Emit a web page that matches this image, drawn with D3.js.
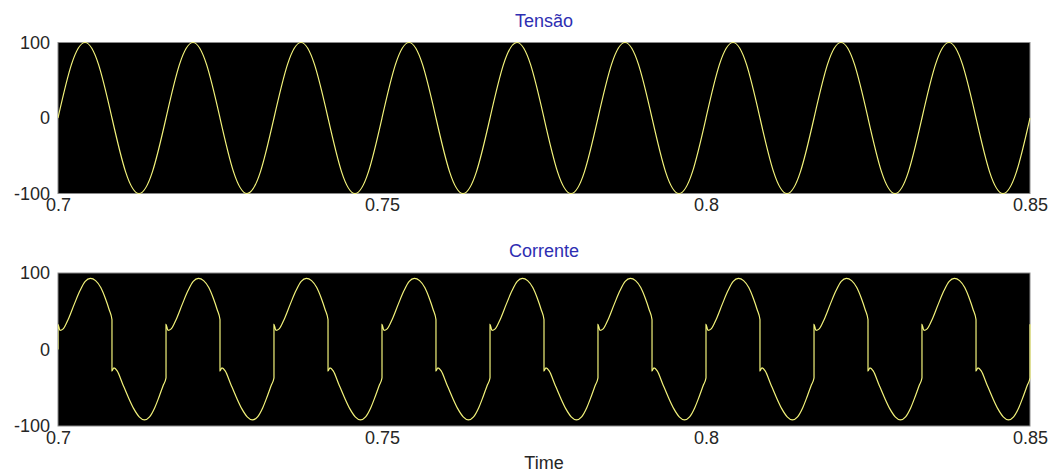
<!DOCTYPE html>
<html>
<head>
<meta charset="utf-8">
<script src="https://cdn.jsdelivr.net/npm/d3@7"></script>
<style>
  body { margin: 0; background: #fff; }
  .chart text { font-family: "Liberation Sans", Arial, sans-serif; }
</style>
</head>
<body>
<svg class="chart"></svg>
<script>
// Tensão: samples every 1/8 of a 60 Hz period (smoothed by the curve)
const voltageTime = [
  0.7, 0.70208, 0.70417, 0.70625, 0.70833, 0.71042, 0.7125, 0.71458,
  0.71667, 0.71875, 0.72083, 0.72292, 0.725, 0.72708, 0.72917, 0.73125,
  0.73333, 0.73542, 0.7375, 0.73958, 0.74167, 0.74375, 0.74583, 0.74792,
  0.75, 0.75208, 0.75417, 0.75625, 0.75833, 0.76042, 0.7625, 0.76458,
  0.76667, 0.76875, 0.77083, 0.77292, 0.775, 0.77708, 0.77917, 0.78125,
  0.78333, 0.78542, 0.7875, 0.78958, 0.79167, 0.79375, 0.79583, 0.79792,
  0.8, 0.80208, 0.80417, 0.80625, 0.80833, 0.81042, 0.8125, 0.81458,
  0.81667, 0.81875, 0.82083, 0.82292, 0.825, 0.82708, 0.82917, 0.83125,
  0.83333, 0.83542, 0.8375, 0.83958, 0.84167, 0.84375, 0.84583, 0.84792,
  0.85
];
const voltageValue = [
  0, 71, 100, 71, 0, -71, -100, -71,
  0, 71, 100, 71, 0, -71, -100, -71,
  0, 71, 100, 71, 0, -71, -100, -71,
  0, 71, 100, 71, 0, -71, -100, -71,
  0, 71, 100, 71, 0, -71, -100, -71,
  0, 71, 100, 71, 0, -71, -100, -71,
  0, 71, 100, 71, 0, -71, -100, -71,
  0, 71, 100, 71, 0, -71, -100, -71,
  0, 71, 100, 71, 0, -71, -100, -71,
  0
];

// Corrente, one line per half period
const currentTime = [
  0.7, 0.7, 0.7003, 0.7008, 0.7016, 0.7025, 0.7034, 0.7042, 0.705, 0.7058, 0.7066, 0.7073, 0.7079,
  0.70833, 0.70833, 0.70863, 0.70913, 0.70993, 0.71083, 0.71173, 0.71253, 0.71333, 0.71413, 0.71493, 0.71563, 0.71623,
  0.71667, 0.71667, 0.71697, 0.71747, 0.71827, 0.71917, 0.72007, 0.72087, 0.72167, 0.72247, 0.72327, 0.72397, 0.72457,
  0.725, 0.725, 0.7253, 0.7258, 0.7266, 0.7275, 0.7284, 0.7292, 0.73, 0.7308, 0.7316, 0.7323, 0.7329,
  0.73333, 0.73333, 0.73363, 0.73413, 0.73493, 0.73583, 0.73673, 0.73753, 0.73833, 0.73913, 0.73993, 0.74063, 0.74123,
  0.74167, 0.74167, 0.74197, 0.74247, 0.74327, 0.74417, 0.74507, 0.74587, 0.74667, 0.74747, 0.74827, 0.74897, 0.74957,
  0.75, 0.75, 0.7503, 0.7508, 0.7516, 0.7525, 0.7534, 0.7542, 0.755, 0.7558, 0.7566, 0.7573, 0.7579,
  0.75833, 0.75833, 0.75863, 0.75913, 0.75993, 0.76083, 0.76173, 0.76253, 0.76333, 0.76413, 0.76493, 0.76563, 0.76623,
  0.76667, 0.76667, 0.76697, 0.76747, 0.76827, 0.76917, 0.77007, 0.77087, 0.77167, 0.77247, 0.77327, 0.77397, 0.77457,
  0.775, 0.775, 0.7753, 0.7758, 0.7766, 0.7775, 0.7784, 0.7792, 0.78, 0.7808, 0.7816, 0.7823, 0.7829,
  0.78333, 0.78333, 0.78363, 0.78413, 0.78493, 0.78583, 0.78673, 0.78753, 0.78833, 0.78913, 0.78993, 0.79063, 0.79123,
  0.79167, 0.79167, 0.79197, 0.79247, 0.79327, 0.79417, 0.79507, 0.79587, 0.79667, 0.79747, 0.79827, 0.79897, 0.79957,
  0.8, 0.8, 0.8003, 0.8008, 0.8016, 0.8025, 0.8034, 0.8042, 0.805, 0.8058, 0.8066, 0.8073, 0.8079,
  0.80833, 0.80833, 0.80863, 0.80913, 0.80993, 0.81083, 0.81173, 0.81253, 0.81333, 0.81413, 0.81493, 0.81563, 0.81623,
  0.81667, 0.81667, 0.81697, 0.81747, 0.81827, 0.81917, 0.82007, 0.82087, 0.82167, 0.82247, 0.82327, 0.82397, 0.82457,
  0.825, 0.825, 0.8253, 0.8258, 0.8266, 0.8275, 0.8284, 0.8292, 0.83, 0.8308, 0.8316, 0.8323, 0.8329,
  0.83333, 0.83333, 0.83363, 0.83413, 0.83493, 0.83583, 0.83673, 0.83753, 0.83833, 0.83913, 0.83993, 0.84063, 0.84123,
  0.84167, 0.84167, 0.84197, 0.84247, 0.84327, 0.84417, 0.84507, 0.84587, 0.84667, 0.84747, 0.84827, 0.84897, 0.84957,
  0.85, 0.85
];
const currentValue = [
  0, 33, 25, 27, 40, 59, 77, 89, 93, 90, 81, 67, 52,
  39, -28, -24, -28, -44, -62, -78, -88, -92, -88, -76, -61, -47,
  -37, 33, 25, 27, 40, 59, 77, 89, 93, 90, 81, 67, 52,
  39, -28, -24, -28, -44, -62, -78, -88, -92, -88, -76, -61, -47,
  -37, 33, 25, 27, 40, 59, 77, 89, 93, 90, 81, 67, 52,
  39, -28, -24, -28, -44, -62, -78, -88, -92, -88, -76, -61, -47,
  -37, 33, 25, 27, 40, 59, 77, 89, 93, 90, 81, 67, 52,
  39, -28, -24, -28, -44, -62, -78, -88, -92, -88, -76, -61, -47,
  -37, 33, 25, 27, 40, 59, 77, 89, 93, 90, 81, 67, 52,
  39, -28, -24, -28, -44, -62, -78, -88, -92, -88, -76, -61, -47,
  -37, 33, 25, 27, 40, 59, 77, 89, 93, 90, 81, 67, 52,
  39, -28, -24, -28, -44, -62, -78, -88, -92, -88, -76, -61, -47,
  -37, 33, 25, 27, 40, 59, 77, 89, 93, 90, 81, 67, 52,
  39, -28, -24, -28, -44, -62, -78, -88, -92, -88, -76, -61, -47,
  -37, 33, 25, 27, 40, 59, 77, 89, 93, 90, 81, 67, 52,
  39, -28, -24, -28, -44, -62, -78, -88, -92, -88, -76, -61, -47,
  -37, 33, 25, 27, 40, 59, 77, 89, 93, 90, 81, 67, 52,
  39, -28, -24, -28, -44, -62, -78, -88, -92, -88, -76, -61, -47,
  -37, 33
];

const xTicks = [0.7, 0.75, 0.8, 0.85];
const yTicks = [-100, 0, 100];
const titles = ["Tensão", "Corrente"];
const xLabel = "Time";

const width = 1057, height = 475;
const left = 58, right = 1030;

const panels = [
  { title: titles[0], top: 42.5, bottom: 193.5, time: voltageTime, value: voltageValue, curve: d3.curveNatural },
  { title: titles[1], top: 273, bottom: 426, time: currentTime, value: currentValue, curve: d3.curveMonotoneX }
];

const svg = d3.select(".chart").attr("width", width).attr("height", height);

const scaleX = d3.scaleLinear().domain([0.7, 0.85]).range([left, right]);

panels.forEach((p, i) => {
  const scaleY = d3.scaleLinear().domain([-100, 100]).range([p.bottom, p.top]);
  const g = svg.append("g");

  // black scope background
  g.append("rect")
    .attr("x", left).attr("y", p.top)
    .attr("width", right - left).attr("height", p.bottom - p.top)
    .attr("fill", "#000").attr("stroke", "#8a8a8a").attr("stroke-width", 1);

  g.append("clipPath").attr("id", "clip" + i)
    .append("rect")
    .attr("x", left).attr("y", p.top - 1)
    .attr("width", right - left + 1).attr("height", p.bottom - p.top + 2);

  const line = d3.line()
    .x(d => scaleX(p.time[d]))
    .y(d => scaleY(p.value[d]))
    .curve(p.curve);

  g.append("path")
    .datum(d3.range(p.time.length))
    .attr("clip-path", `url(#clip${i})`)
    .attr("fill", "none")
    .attr("stroke", "#f2f27a")
    .attr("stroke-width", 1.2)
    .attr("d", line);

  // axes without tick marks or domain lines
  const yAxis = g.append("g")
    .attr("transform", `translate(${left},0)`)
    .call(d3.axisLeft(scaleY).tickValues(yTicks).tickSize(0).tickPadding(8).tickFormat(d => String(d)));
  const xAxis = g.append("g")
    .attr("transform", `translate(0,${p.bottom})`)
    .call(d3.axisBottom(scaleX).tickValues(xTicks).tickSize(0).tickPadding(5).tickFormat(d => String(d)));
  [yAxis, xAxis].forEach(a => {
    a.select(".domain").remove();
    a.attr("font-size", 18).attr("font-family", null);
    a.selectAll("text").attr("fill", "#262626");
  });

  g.append("text")
    .attr("x", (left + right) / 2).attr("y", p.top - 16)
    .attr("text-anchor", "middle")
    .attr("font-size", 18)
    .attr("fill", "#2e2eb2")
    .text(p.title);
});

svg.append("text")
  .attr("x", (left + right) / 2).attr("y", 469)
  .attr("text-anchor", "middle")
  .attr("font-size", 18)
  .attr("fill", "#262626")
  .text(xLabel);
</script>
</body>
</html>
